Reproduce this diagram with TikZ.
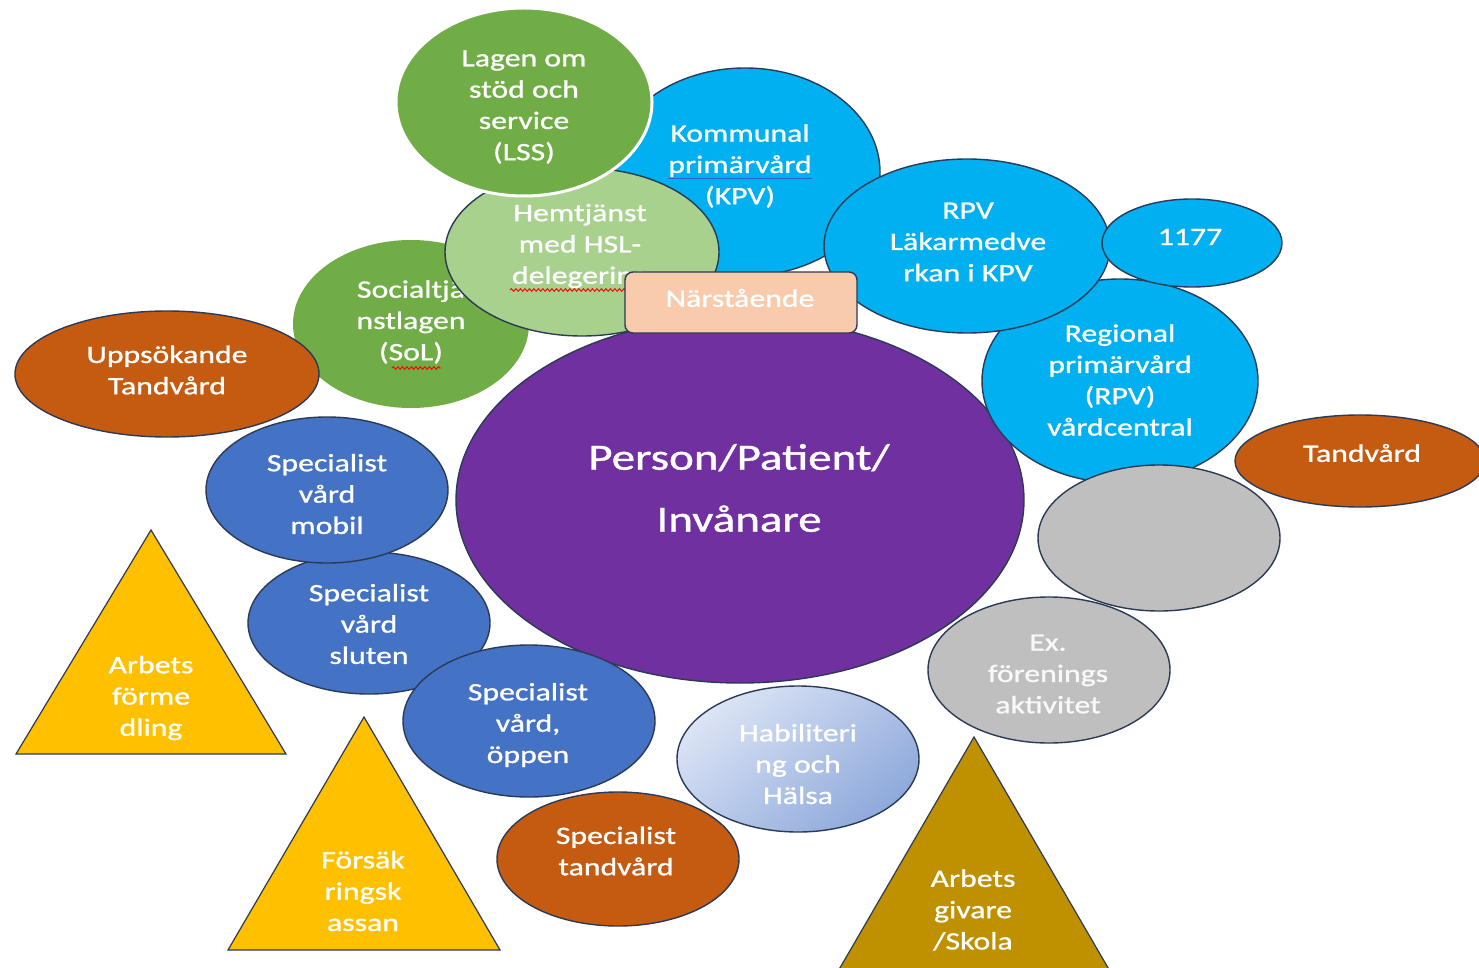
\documentclass[tikz,border=0pt]{standalone}
\usepackage{fontspec}
\setmainfont{Carlito}[FakeStretch=1.27,FakeBold=1]
\usetikzlibrary{shapes.geometric,decorations.pathmorphing}
\definecolor{outl}{HTML}{2B3A55}
\definecolor{cgreen}{HTML}{70AD47}
\definecolor{clgreen}{HTML}{A9D18E}
\definecolor{ccyan}{HTML}{00B0F0}
\definecolor{cblue}{HTML}{4472C4}
\definecolor{corange}{HTML}{C55A11}
\definecolor{cpurple}{HTML}{7030A0}
\definecolor{cpeach}{HTML}{F8CBAD}
\definecolor{cgray}{HTML}{BFBFBF}
\definecolor{cyellow}{HTML}{FFC000}
\definecolor{cdyellow}{HTML}{BF9000}
\definecolor{habA}{HTML}{DCE4F5}
\definecolor{habB}{HTML}{8EA9DB}
\definecolor{ulblue}{HTML}{2F5FD0}
\begin{document}
\begin{tikzpicture}[x=1pt,y=-1pt,
  shp/.style={ellipse, draw=outl, line width=1.4pt, inner sep=0pt, outer sep=0pt},
  txt/.style={text=white, align=center, font=\fontsize{25}{31.3}\selectfont, inner sep=0pt},
  tri/.style={draw=outl, line width=1.2pt, line join=miter},
  wavy/.style={red, line width=0.9pt, decorate, decoration={snake, amplitude=1.3pt, segment length=4.5pt}}]
\fill[white] (0,0) rectangle (1479,968);
\useasboundingbox (0,0) rectangle (1479,968);
\clip (0,0) rectangle (1479,968);

% central person
\node[shp, fill=cpurple, minimum width=568pt, minimum height=366pt] (person) at (740,500) {};
\node[txt, font=\fontsize{37}{62}\selectfont] (person-t) at (739,488) {Person/Patient/\\Invånare};

% Socialtjänstlagen
\node[shp, draw=none, fill=cgreen, minimum width=236pt, minimum height=168pt] (sol) at (411,324) {};
\node[txt] (sol-t) at (411,322) {Socialtjä\\nstlagen\\(SoL)};
\coordinate (solw1) at (392,368);
\coordinate (solw2) at (441,368);
\draw[wavy] (solw1) -- (solw2);

% Kommunal primärvård
\node[shp, fill=ccyan, minimum width=270pt, minimum height=208pt] (kpv) at (745,172) {};
\node[txt] (kpv-t) at (740,166) {Kommunal\\\textcolor{ulblue}{\underline{\textcolor{white}{primärvård}}}\\(KPV)};

% Hemtjänst
\node[shp, fill=clgreen, minimum width=274pt, minimum height=168pt] (hem) at (582,252) {};
\node[txt] (hem-t) at (580,246) {Hemtjänst\\med HSL-\\delegering};
\coordinate (hemw1) at (510,290);
\coordinate (hemw2) at (630,290);
\draw[wavy] (hemw1) -- (hemw2);

% LSS
\node[shp, draw=white, line width=3pt, fill=cgreen, minimum width=256pt, minimum height=188pt] (lss) at (524,102) {};
\node[txt] (lss-t) at (524,107) {Lagen om\\stöd och\\service\\(LSS)};

% Regional primärvård
\node[shp, fill=ccyan, minimum width=276pt, minimum height=204pt] (rpv) at (1120,381) {};
\node[txt] (rpv-t) at (1120,380) {Regional\\primärvård\\(RPV)\\vårdcentral};

% RPV Läkarmedverkan
\node[shp, fill=ccyan, minimum width=286pt, minimum height=174pt] (lak) at (967,246) {};
\node[txt] (lak-t) at (968,242) {RPV\\Läkarmedve\\rkan i KPV};

% 1177
\node[shp, fill=ccyan, minimum width=180pt, minimum height=88pt] (n1177) at (1192,243) {};
\node[txt] (n1177-t) at (1190,237) {1177};

% Tandvård
\node[shp, fill=corange, minimum width=250pt, minimum height=92pt] (tand) at (1360,461) {};
\node[txt] (tand-t) at (1362,453) {Tandvård};

% gray
\node[shp, fill=cgray, minimum width=242pt, minimum height=146pt] (grey) at (1159,538) {};

% Ex. föreningsaktivitet
\node[shp, fill=cgray, minimum width=242pt, minimum height=146pt] (ex) at (1049,670) {};
\node[txt, text=white!95!gray] (ex-t) at (1048,674) {Ex.\\förenings\\aktivitet};

% Närstående
\node[draw=outl, line width=1.4pt, fill=cpeach, rounded corners=8pt, minimum width=232pt, minimum height=61pt, inner sep=0pt] (nar) at (741,302.5) {};
\node[txt] (nar-t) at (740,298) {Närstående};

% Specialistvård
\node[shp, fill=cblue, minimum width=242pt, minimum height=142pt] (slu) at (369,623) {};
\node[txt] (slu-t) at (369,624) {Specialist\\vård\\sluten};
\node[shp, fill=cblue, minimum width=242pt, minimum height=146pt] (mob) at (327,490) {};
\node[txt] (mob-t) at (327,494) {Specialist\\vård\\mobil};
\node[shp, fill=cblue, minimum width=252pt, minimum height=152pt] (opp) at (529,721) {};
\node[txt] (opp-t) at (528,725) {Specialist\\vård,\\öppen};

% Specialisttandvård
\node[shp, fill=corange, minimum width=242pt, minimum height=134pt] (stand) at (618,859) {};
\node[txt] (stand-t) at (616,851) {Specialist\\tandvård};

% Habilitering
\node[shp, top color=habA, bottom color=habB, shading angle=40, minimum width=242pt, minimum height=146pt] (hab) at (798,759) {};
\node[txt] (hab-t) at (798,764) {Habiliteri\\ng och\\Hälsa};

% Uppsökande tandvård
\node[shp, fill=corange, minimum width=304pt, minimum height=126pt] (upp) at (167,374) {};
\node[txt] (upp-t) at (167,370) {Uppsökande\\Tandvård};

% triangles
\coordinate (af1) at (151,530);
\coordinate (af2) at (286,754);
\coordinate (af3) at (16,754);
\draw[tri, fill=cyellow] (af1) -- (af2) -- (af3) -- cycle;
\node[txt] (af-t) at (151,698) {Arbets\\förme\\dling};

\coordinate (fk1) at (364,717);
\coordinate (fk2) at (500,950);
\coordinate (fk3) at (228,950);
\draw[tri, fill=cyellow] (fk1) -- (fk2) -- (fk3) -- cycle;
\node[txt] (fk-t) at (363,891) {Försäk\\ringsk\\assan};

\coordinate (ag1) at (974,737);
\coordinate (ag2) at (1118,985);
\coordinate (ag3) at (830,985);
\draw[tri, fill=cdyellow] (ag1) -- (ag2) -- (ag3) -- cycle;
\node[txt] (ag-t) at (973,910) {Arbets\\givare\\/Skola};
\end{tikzpicture}
\end{document}
